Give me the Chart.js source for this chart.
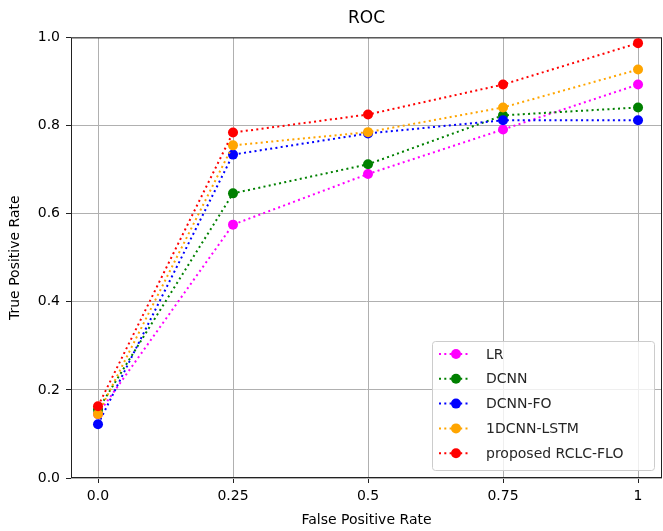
<!DOCTYPE html>
<html>
<head>
<meta charset="utf-8">
<script src="https://cdn.jsdelivr.net/npm/chart.js@4"></script>
<style>
  html, body { margin: 0; padding: 0; background: #fff; overflow: hidden; }
  #wrap { width: 667px; height: 531px; }
</style>
</head>
<body>
<div id="wrap"><canvas id="rocChart"></canvas></div>
<script>
// x positions (false positive rate) and their tick labels
const fpr = [0, 0.25, 0.5, 0.75, 1];
const xTickLabels = ["0.0", "0.25", "0.5", "0.75", "1"];
const yTickValues = [0, 0.2, 0.4, 0.6, 0.8, 1.0];

// true positive rate for each model
const lr = [0.145, 0.575, 0.69, 0.791, 0.893];
const dcnn = [0.155, 0.646, 0.712, 0.823, 0.841];
const dcnnFo = [0.122, 0.734, 0.782, 0.812, 0.812];
const cnnLstm = [0.145, 0.755, 0.785, 0.841, 0.927];
const rclcFlo = [0.163, 0.784, 0.825, 0.893, 0.987];

const seriesNames = ["LR", "DCNN", "DCNN-FO", "1DCNN-LSTM", "proposed RCLC-FLO"];
const seriesColors = ["#ff00ff", "#008000", "#0000ff", "#ffa500", "#ff0000"];
const seriesValues = [lr, dcnn, dcnnFo, cnnLstm, rclcFlo];

const FONT = "'DejaVu Sans', sans-serif";
const DOTS = [2, 3.3];

function makeDataset(i) {
  return {
    label: seriesNames[i],
    data: fpr.map((x, j) => ({ x: x, y: seriesValues[i][j] })),
    order: seriesNames.length - i, // later series on top, as in matplotlib
    borderColor: seriesColors[i],
    backgroundColor: seriesColors[i],
    borderWidth: 2,
    borderDash: DOTS,
    pointRadius: 5,
    pointHoverRadius: 5,
    pointBorderWidth: 0,
    fill: false,
    tension: 0,
  };
}

// all four spines like matplotlib
const framePlugin = {
  id: "frame",
  beforeDatasetsDraw(chart) {
    const { ctx, chartArea: a } = chart;
    ctx.save();
    ctx.strokeStyle = "#222";
    ctx.lineWidth = 1;
    ctx.strokeRect(a.left + 0.5, a.top + 0.5, a.right - a.left - 1, a.bottom - a.top - 1);
    ctx.restore();
  },
};

// legend drawn inside the plot, lower right
const innerLegend = {
  id: "innerLegend",
  afterDatasetsDraw(chart) {
    const { ctx, chartArea: a } = chart;
    const boxW = 222, rowH = 24.8, boxH = 129;
    const x0 = a.right - 8 - boxW, y0 = a.bottom - 8 - boxH;
    ctx.save();
    ctx.fillStyle = "rgba(255,255,255,0.8)";
    ctx.strokeStyle = "#cccccc";
    ctx.lineWidth = 1;
    ctx.beginPath();
    ctx.roundRect(x0 + 0.5, y0 + 0.5, boxW, boxH, 3);
    ctx.fill();
    ctx.stroke();
    seriesNames.forEach((name, i) => {
      const cy = y0 + 13 + i * rowH;
      ctx.strokeStyle = seriesColors[i];
      ctx.lineWidth = 2;
      ctx.setLineDash(DOTS);
      ctx.beginPath();
      ctx.moveTo(x0 + 7, cy);
      ctx.lineTo(x0 + 36, cy);
      ctx.stroke();
      ctx.setLineDash([]);
      ctx.fillStyle = seriesColors[i];
      ctx.beginPath();
      ctx.arc(x0 + 24, cy, 5, 0, Math.PI * 2);
      ctx.fill();
      ctx.fillStyle = "#262626";
      ctx.font = "14px " + FONT;
      ctx.textBaseline = "middle";
      ctx.fillText(name, x0 + 54, cy + 1);
    });
    ctx.restore();
  },
};

new Chart(document.getElementById("rocChart").getContext("2d"), {
  type: "line",
  data: { datasets: seriesValues.map((_, i) => makeDataset(i)) },
  plugins: [framePlugin, innerLegend],
  options: {
    responsive: true,
    maintainAspectRatio: false,
    animation: false,
    layout: { padding: { left: 0, right: 0, top: 0, bottom: 0 } },
    plugins: {
      legend: { display: false },
      tooltip: { enabled: false },
      title: {
        display: true,
        fullSize: false,
        text: "ROC",
        color: "#000",
        font: { family: FONT, size: 17, weight: "normal" },
        padding: { top: 8, bottom: 9 },
      },
    },
    scales: {
      x: {
        type: "linear",
        min: -0.05,
        max: 1.0444,
        afterBuildTicks(scale) {
          scale.ticks = fpr.map((v) => ({ value: v }));
        },
        afterFit(scale) { scale.height = 53; },
        ticks: {
          color: "#000",
          font: { family: FONT, size: 14 },
          padding: 5,
          maxRotation: 0,
          callback: (v) => xTickLabels[fpr.indexOf(v)],
        },
        grid: { color: "#b0b0b0", lineWidth: 1, tickColor: "#222", tickLength: 5 },
        border: { display: false },
        title: {
          display: true,
          text: "False Positive Rate",
          color: "#000",
          font: { family: FONT, size: 14 },
          padding: { top: 0, bottom: 2 },
        },
      },
      y: {
        min: 0,
        max: 1,
        afterBuildTicks(scale) {
          scale.ticks = yTickValues.map((v) => ({ value: v }));
        },
        afterFit(scale) { scale.width = 71; },
        ticks: {
          color: "#000",
          font: { family: FONT, size: 14 },
          padding: 6,
          callback: (v) => v.toFixed(1),
        },
        grid: { color: "#b0b0b0", lineWidth: 1, tickColor: "#222", tickLength: 5 },
        border: { display: false },
        title: {
          display: true,
          text: "True Positive Rate",
          color: "#000",
          font: { family: FONT, size: 14 },
          padding: { top: 7, bottom: 0 },
        },
      },
    },
  },
});
</script>
</body>
</html>
